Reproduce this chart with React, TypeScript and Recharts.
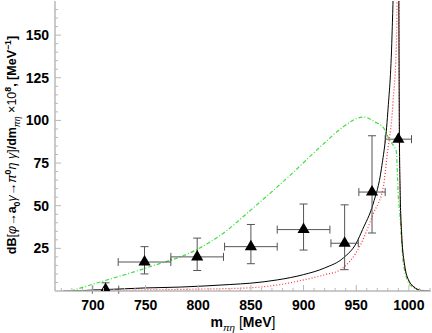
import React from "react";
import {
  ComposedChart,
  Line,
  Scatter,
  ErrorBar,
  XAxis,
  YAxis,
} from "recharts";

// theory curves, x in MeV
const blackCurve = [
  [672, 0], [690, 0.25], [710, 0.8], [750, 1.8], [783, 2.3], [830, 3.8],
  [850, 4.6], [875, 6.5], [900, 9.6], [920, 13.5], [938, 19.5], [950, 28],
  [956, 36], [966, 51], [974, 72], [980, 105], [984, 150], [986, 200],
  [988, 300], [989.5, 350], [990.3, 200], [991, 90], [991.6, 62], [993, 35],
  [996, 15], [1000, 6], [1004, 2.8], [1012, 0.3], [1020, 0],
].map(([x, y]) => ({ x, y }));

const redCurve = [
  [672, 0], [700, 0.15], [750, 0.6], [800, 1.1], [850, 1.9], [875, 3.5],
  [900, 6.5], [920, 9.5], [935, 12.5], [954, 27], [966, 45], [976, 62],
  [979, 78], [985, 111], [988.4, 150], [989.5, 250], [990.5, 180], [991, 90],
  [991.6, 60], [993, 34], [996, 14.5], [1000, 6], [1004, 2.8], [1012, 0.4],
  [1020, 0],
].map(([x, y]) => ({ x, y }));

const greenCurve = [
  [679, 0], [707, 5.3], [751, 13.6], [799, 24.4], [821, 32.6],
  [852, 48.6], [884, 66], [922, 88], [935, 95], [957, 102], [968, 99],
  [976, 95.6], [982, 88], [988, 82], [990, 55], [991.6, 44], [993, 30],
  [995, 15], [1002, 3], [1012, 0.3], [1020, 0],
].map(([x, y]) => ({ x, y }));

// experimental points: x, y, x error, y error [down, up]
const points = [
  { x: 712, y: 0.8, ex: 12.5, ey: [0.8, 4] },
  { x: 749, y: 17, ex: 25, ey: [7, 9] },
  { x: 799, y: 20, ex: 25, ey: [8, 11] },
  { x: 850, y: 26, ex: 25, ey: [10, 13] },
  { x: 900, y: 36, ex: 25, ey: [12, 15] },
  { x: 939, y: 28, ex: 13, ey: [15.5, 22.5] },
  { x: 965, y: 58, ex: 12.5, ey: [24, 33] },
  { x: 990, y: 89, ex: 12.5, ey: [0, 0] },
];

const xTicks = Array.from({ length: 36 }, (_, i) => 670 + i * 10);
const yTicks = Array.from({ length: 33 }, (_, i) => 5 + i * 5);

const FONT = "'Liberation Sans', Arial, sans-serif";
const FRAME = "#b8b8b8";

const BottomTick = ({ x, y, payload }: any) => {
  const v = payload.value;
  const major = v % 50 === 0;
  return (
    <g>
      <line x1={x} x2={x} y1={y} y2={y - (major ? 6 : 3)} stroke={FRAME} />
      {major && v >= 700 && v <= 1000 && (
        <text x={x} y={y + 19} textAnchor="middle" fontSize={14} fontWeight="bold" fontFamily={FONT} fill="#000">
          {v}
        </text>
      )}
    </g>
  );
};

const TopTick = ({ x, y, payload }: any) => {
  const major = payload.value % 50 === 0;
  return <line x1={x} x2={x} y1={y} y2={y + (major ? 6 : 3)} stroke={FRAME} />;
};

const LeftTick = ({ x, y, payload }: any) => {
  const v = payload.value;
  const major = v % 25 === 0;
  return (
    <g>
      <line x1={x} x2={x + (major ? 6 : 3)} y1={y} y2={y} stroke={FRAME} />
      {major && (
        <text x={x - 6} y={y} dy="0.36em" textAnchor="end" fontSize={14} fontWeight="bold" fontFamily={FONT} fill="#000">
          {v}
        </text>
      )}
    </g>
  );
};

const RightTick = ({ x, y, payload }: any) => {
  const major = payload.value % 25 === 0;
  return <line x1={x} x2={x - (major ? 6 : 3)} y1={y} y2={y} stroke={FRAME} />;
};

type Seg = { t: string; sub?: boolean; sup?: boolean; it?: boolean; nb?: boolean };

// renders a run of text pieces with sub/superscripts
function Rich({ segs, size }: { segs: Seg[]; size: number }) {
  let shift = 0;
  return (
    <>
      {segs.map((s, i) => {
        const target = s.sub ? size * 0.3 : s.sup ? -size * 0.4 : 0;
        const dy = target - shift;
        shift = target;
        return (
          <tspan
            key={i}
            dy={dy}
            fontSize={s.sub || s.sup ? size * 0.7 : size}
            fontStyle={s.it ? "italic" : "normal"}
            fontWeight={s.nb || s.it ? "normal" : "bold"}
          >
            {s.t}
          </tspan>
        );
      })}
    </>
  );
}

const yTitle: Seg[] = [
  { t: "dB" }, { t: "[", nb: true }, { t: "φ", it: true }, { t: "→", nb: true },
  { t: "a" }, { t: "0", sub: true }, { t: "γ", it: true }, { t: "→", nb: true },
  { t: "π", it: true }, { t: "0", sup: true }, { t: "η γ", it: true },
  { t: "]", nb: true }, { t: "/dm" }, { t: "πη", sub: true, it: true },
  { t: " ×10", nb: true }, { t: "8", sup: true }, { t: ", [MeV" },
  { t: "−1", sup: true }, { t: "]" },
];

const xTitle: Seg[] = [
  { t: "m" }, { t: "πη", sub: true, it: true }, { t: " [", nb: true },
  { t: "MeV" }, { t: "]", nb: true },
];

export default function App() {
  return (
    <div style={{ position: "absolute", left: 0, top: 0, background: "#fff" }}>
      <ComposedChart width={432} height={333} margin={{ top: 1, right: 1, bottom: 0, left: 0 }}>
        <XAxis
          xAxisId="b"
          type="number"
          dataKey="x"
          domain={[664, 1021]}
          allowDataOverflow
          ticks={xTicks}
          interval={0}
          tick={<BottomTick />}
          tickLine={false}
          tickSize={0}
          tickMargin={0}
          height={42}
          axisLine={{ stroke: FRAME, strokeWidth: 1.5 }}
          label={() => (
            <text x={243} y={327} textAnchor="middle" fontFamily={FONT} fill="#000">
              <Rich segs={xTitle} size={14} />
            </text>
          )}
        />
        <XAxis
          xAxisId="t"
          orientation="top"
          type="number"
          dataKey="x"
          domain={[664, 1021]}
          allowDataOverflow
          ticks={xTicks}
          interval={0}
          tick={<TopTick />}
          tickLine={false}
          tickSize={0}
          tickMargin={0}
          height={0}
          axisLine={{ stroke: FRAME, strokeWidth: 1.5 }}
        />
        <YAxis
          yAxisId="l"
          type="number"
          domain={[0, 170]}
          allowDataOverflow
          ticks={yTicks}
          interval={0}
          tick={<LeftTick />}
          tickLine={false}
          tickSize={0}
          tickMargin={0}
          width={55}
          axisLine={{ stroke: FRAME, strokeWidth: 1.5 }}
          label={() => (
            <text transform="translate(16,145) rotate(-90)" textAnchor="middle" fontFamily={FONT} fill="#000">
              <Rich segs={yTitle} size={12.5} />
            </text>
          )}
        />
        <YAxis
          yAxisId="r"
          orientation="right"
          type="number"
          domain={[0, 170]}
          allowDataOverflow
          ticks={yTicks}
          interval={0}
          tick={<RightTick />}
          tickLine={false}
          tickSize={0}
          tickMargin={0}
          width={0}
          axisLine={{ stroke: FRAME, strokeWidth: 1.5 }}
        />
        <Line
          xAxisId="b"
          yAxisId="l"
          data={greenCurve}
          dataKey="y"
          type="monotone"
          stroke="#3ee03e"
          strokeWidth={1.2}
          strokeDasharray="4 2 1 2"
          dot={false}
          isAnimationActive={false}
        />
        <Line
          xAxisId="b"
          yAxisId="l"
          data={redCurve}
          dataKey="y"
          type="monotone"
          stroke="#ff3030"
          strokeWidth={1.2}
          strokeDasharray="1 2"
          dot={false}
          isAnimationActive={false}
        />
        <Line
          xAxisId="b"
          yAxisId="l"
          data={blackCurve}
          dataKey="y"
          type="monotone"
          stroke="#000"
          strokeWidth={1}
          dot={false}
          isAnimationActive={false}
        />
        <Scatter
          xAxisId="b"
          yAxisId="l"
          data={points}
          dataKey="y"
          shape="triangle"
          size={45}
          fill="#000"
          isAnimationActive={false}
        >
          <ErrorBar dataKey="ex" direction="x" width={4} stroke="#555" strokeWidth={1} />
          <ErrorBar dataKey="ey" direction="y" width={4} stroke="#555" strokeWidth={1} />
        </Scatter>
      </ComposedChart>
    </div>
  );
}
